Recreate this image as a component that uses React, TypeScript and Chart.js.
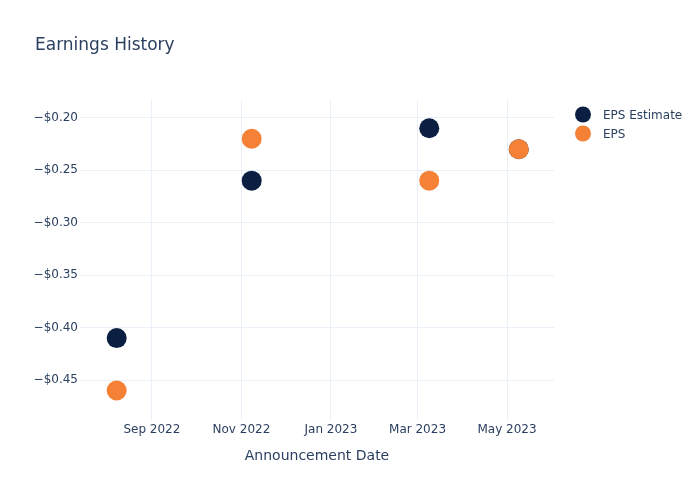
import React, { useEffect, useRef } from "react";
import { Chart, registerables } from "chart.js";

Chart.register(...registerables);

const FONT = "'DejaVu Sans', 'Open Sans', Verdana, sans-serif";
const TEXT_COLOR = "#2a3f5f";
const GRID_COLOR = "#ebf0f8";

const dates: [number, number, number][] = [
  [2022, 8, 8],
  [2022, 11, 8],
  [2023, 3, 9],
  [2023, 5, 9],
];
const epsEstimate = [-0.41, -0.26, -0.21, -0.23];
const eps = [-0.46, -0.22, -0.26, -0.23];
const seriesNames = ["EPS Estimate", "EPS"];
const seriesColors = ["#0b1f42", "#f58137"];

const xTickMonths: [number, number][] = [
  [2022, 9],
  [2022, 11],
  [2023, 1],
  [2023, 3],
  [2023, 5],
];
const monthNames = ["Jan", "Feb", "Mar", "Apr", "May", "Jun", "Jul", "Aug", "Sep", "Oct", "Nov", "Dec"];
const yTicks = [-0.45, -0.4, -0.35, -0.3, -0.25, -0.2];
const xRange: [number, number, number][] = [
  [2022, 7, 14],
  [2023, 6, 2],
];
const yRange = [-0.4881, -0.1831];

const ts = (y: number, m: number, d: number) => Date.UTC(y, m - 1, d);

export default function App() {
  const ref = useRef<HTMLCanvasElement | null>(null);

  useEffect(() => {
    if (!ref.current) return;
    const xs = dates.map(([y, m, d]) => ts(y, m, d));
    const overlay = {
      id: "overlay",
      afterDraw(chart: any) {
        const ctx = chart.ctx;
        ctx.save();
        ctx.fillStyle = TEXT_COLOR;
        ctx.font = `17px ${FONT}`;
        ctx.textBaseline = "middle";
        ctx.textAlign = "left";
        ctx.fillText("Earnings History", 35, 45.5);
        ctx.font = `12px ${FONT}`;
        seriesNames.forEach((name, i) => {
          const y = 114.5 + i * 19;
          ctx.beginPath();
          ctx.arc(583, y, 8, 0, Math.PI * 2);
          ctx.fillStyle = seriesColors[i];
          ctx.fill();
          ctx.fillStyle = TEXT_COLOR;
          ctx.fillText(name, 603, y + 1);
        });
        ctx.restore();
      },
    };

    const chart = new Chart(ref.current, {
      type: "scatter",
      data: {
        datasets: [
          {
            label: seriesNames[0],
            data: xs.map((x, i) => ({ x, y: epsEstimate[i] })),
            backgroundColor: seriesColors[0],
            borderColor: seriesColors[0],
            borderWidth: 0,
            pointRadius: 10,
            pointHoverRadius: 10,
            order: 2,
          },
          {
            label: seriesNames[1],
            data: xs.map((x, i) => ({ x, y: eps[i] })),
            backgroundColor: seriesColors[1],
            borderColor: seriesColors[1],
            borderWidth: 0,
            pointRadius: 10,
            pointHoverRadius: 10,
            order: 1,
          },
        ],
      },
      options: {
        animation: false,
        responsive: false,
        maintainAspectRatio: false,
        layout: { padding: { left: 0, right: 146, top: 100, bottom: 0 } },
        plugins: {
          legend: { display: false },
          title: { display: false },
          tooltip: { enabled: false },
        },
        scales: {
          x: {
            type: "linear",
            min: ts(...xRange[0]),
            max: ts(...xRange[1]),
            afterBuildTicks: (scale: any) => {
              scale.ticks = xTickMonths.map(([y, m]) => ({ value: ts(y, m, 1) }));
            },
            afterFit: (scale: any) => {
              scale.height = 80;
            },
            ticks: {
              color: TEXT_COLOR,
              font: { family: FONT, size: 12 },
              padding: 3,
              maxRotation: 0,
              autoSkip: false,
              callback: (v: any) => {
                const d = new Date(Number(v));
                return `${monthNames[d.getUTCMonth()]} ${d.getUTCFullYear()}`;
              },
            },
            grid: { color: GRID_COLOR, lineWidth: 1, drawTicks: false },
            border: { display: false },
            title: {
              display: true,
              text: "Announcement Date",
              color: TEXT_COLOR,
              font: { family: FONT, size: 14 },
              padding: { top: 0, bottom: 35 },
            },
          },
          y: {
            type: "linear",
            min: yRange[0],
            max: yRange[1],
            afterBuildTicks: (scale: any) => {
              scale.ticks = yTicks.map((v) => ({ value: v }));
            },
            afterFit: (scale: any) => {
              scale.width = 80;
            },
            ticks: {
              color: TEXT_COLOR,
              font: { family: FONT, size: 12 },
              padding: 2,
              callback: (v: any) => {
                const n = Number(v);
                return (n < 0 ? "\u2212" : "") + "$" + Math.abs(n).toFixed(2);
              },
            },
            grid: { color: GRID_COLOR, lineWidth: 1, drawTicks: false },
            border: { display: false },
          },
        },
      },
      plugins: [overlay],
    } as any);
    return () => chart.destroy();
  }, []);

  return (
    <div style={{ width: 700, height: 500, margin: -8, background: "#fff" }}>
      <canvas ref={ref} width={700} height={500} style={{ display: "block" }} />
    </div>
  );
}
